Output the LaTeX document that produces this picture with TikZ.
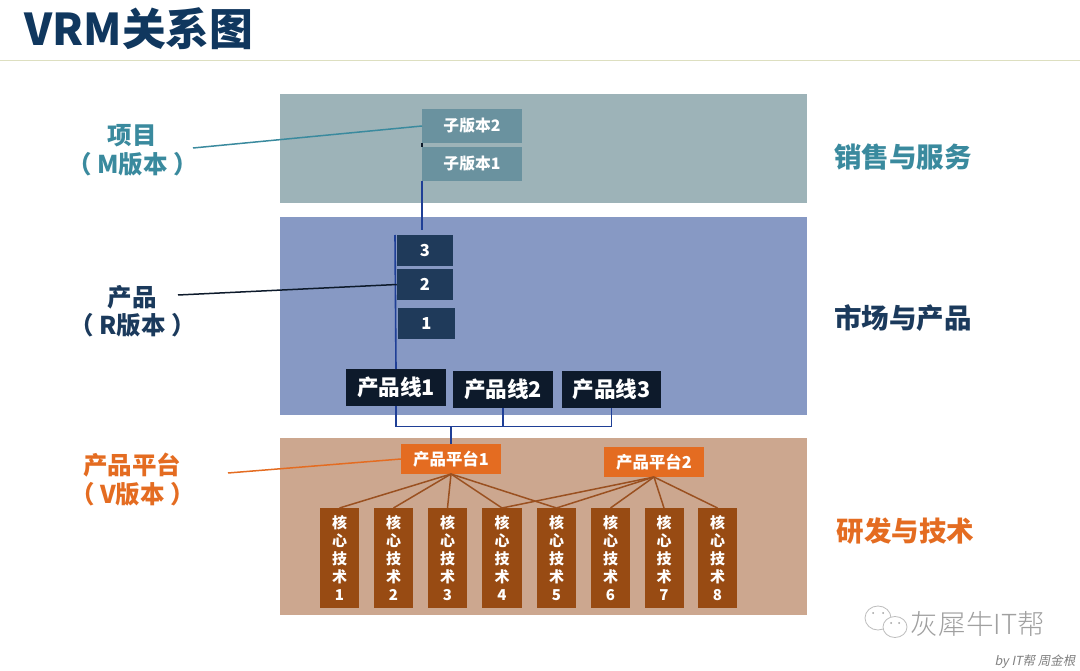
\documentclass[tikz,border=0pt]{standalone}
\usepackage{fontspec}
\setmainfont{Noto Sans CJK SC}
\newfontfamily\slantfont[FakeSlant=0.2]{Noto Sans CJK SC}
\newfontfamily\lightfont{Noto Sans CJK SC Light}
\usetikzlibrary{positioning}
\definecolor{bandA}{HTML}{9DB3B8}
\definecolor{bandB}{HTML}{8799C4}
\definecolor{bandC}{HTML}{CCA78F}
\definecolor{subC}{HTML}{6A929F}
\definecolor{relC}{HTML}{1F3A5A}
\definecolor{plC}{HTML}{0D1A2B}
\definecolor{pfC}{HTML}{E46C21}
\definecolor{coreC}{HTML}{984B13}
\definecolor{tealT}{HTML}{3A8A9E}
\definecolor{navyT}{HTML}{1B3A5C}
\definecolor{titleC}{HTML}{10375E}
\definecolor{ruleC}{HTML}{DDDFC0}
\definecolor{wireC}{HTML}{1F3F96}
\definecolor{treeC}{HTML}{9A5020}
\definecolor{markC}{HTML}{A0A0A0}
\tikzset{
  x=1pt,y=-1pt,
  box/.style={inner sep=0pt,outer sep=0pt,align=center,text=white,font=\bfseries},
  band/.style={box,minimum width=527pt},
  subbox/.style={box,fill=subC,minimum width=100pt,minimum height=34pt,font=\bfseries\fontsize{15.8}{17}\selectfont},
  relbox/.style={box,fill=relC,minimum width=56.5pt,minimum height=31pt,font=\bfseries\fontsize{16.5}{17}\selectfont},
  plbox/.style={box,fill=plC,minimum width=100pt,minimum height=37pt,font=\bfseries\fontsize{21.6}{23}\selectfont},
  pfbox/.style={box,fill=pfC,minimum width=100pt,minimum height=30pt,font=\bfseries\fontsize{16.4}{18}\selectfont},
  corebox/.style={box,fill=coreC,minimum width=39pt,minimum height=100pt,font=\bfseries\fontsize{15}{17.9}\selectfont},
  sidelabel/.style={inner sep=0pt,font=\bfseries\fontsize{24.5}{26}\selectfont},
  arealabel/.style={inner sep=0pt,font=\bfseries\fontsize{27.5}{29}\selectfont},
  wire/.style={draw=wireC,line width=1.6pt},
  tree/.style={draw=treeC,line width=1.5pt},
  callout/.style={line width=1.5pt},
  bubble/.style={draw=markC!70,fill=white,line width=0.8pt}
}
\begin{document}
\begin{tikzpicture}
\useasboundingbox (0,0) rectangle (1080,671);
\fill[white] (0,0) rectangle (1080,671);
% title
\node[inner sep=0pt,text=titleC,font=\bfseries\fontsize{43.8}{46}\selectfont] (title) at (139,29) {VRM关系图};
\coordinate (ruleL) at (0,60.5);
\coordinate (ruleR) at (1080,60.5);
\draw[ruleC,line width=1pt] (ruleL) -- (ruleR);
% bands
\node[band,fill=bandA,minimum height=109pt] (bandTop) at (543.5,148.5) {};
\node[band,fill=bandB,minimum height=198pt] (bandMid) at (543.5,316) {};
\node[band,fill=bandC,minimum height=177pt] (bandLow) at (543.5,526.5) {};
% boxes
\node[subbox] (s2) at (472,126) {子版本2};
\node[subbox] (s1) at (472,164) {子版本1};
\node[relbox] (r3) at (425,250.5) {3};
\node[relbox] (r2) at (425,284.5) {2};
\node[relbox] (r1) at (426.5,323.5) {1};
\node[plbox] (pl1) at (396,387.5) {产品线1};
\node[plbox] (pl2) at (503,389.5) {产品线2};
\node[plbox,minimum width=99pt] (pl3) at (611.5,389.5) {产品线3};
\node[pfbox] (pf1) at (451,459) {产品平台1};
\node[pfbox] (pf2) at (654,462) {产品平台2};
\node[corebox] (c1) at (339.5,558) {核\\心\\技\\术\\1};
\node[corebox] (c2) at (393.5,558) {核\\心\\技\\术\\2};
\node[corebox] (c3) at (447.5,558) {核\\心\\技\\术\\3};
\node[corebox,minimum width=40pt] (c4) at (502,558) {核\\心\\技\\术\\4};
\node[corebox] (c5) at (556.5,558) {核\\心\\技\\术\\5};
\node[corebox] (c6) at (610.5,558) {核\\心\\技\\术\\6};
\node[corebox] (c7) at (664,558) {核\\心\\技\\术\\7};
\node[corebox] (c8) at (717.5,558) {核\\心\\技\\术\\8};
% wires
\coordinate (r3top) at (422,230);
\coordinate (sideTop) at (395,235);
\draw[wire] (s1.south west) -- (r3top);
\draw[wire,draw=plC] (s2.south west) -- (s1.north west);
\draw[wire] (sideTop) -- (pl1.north);
\draw[wire] (pl1.south) -- ++(0,20.5) -| (pl3.south);
\draw[wire] (pl2.south) -- ++(0,18.5);
\coordinate (trunkTop) at (451,426);
\draw[wire] (pf1.north) -- (trunkTop);
% tree
\foreach \c in {c1,c2,c3,c4,c5} \draw[tree] (pf1.south) -- (\c.north);
\foreach \c in {c4,c5,c6,c7,c8} \draw[tree] (pf2.south) -- (\c.north);
% left labels
\node[sidelabel,text=tealT] (lm1) at (132,135.5) {项目};
\node[sidelabel,text=tealT] (lm2) at (132.5,164) {（ M版本 ）};
\node[sidelabel,text=navyT] (lr1) at (132,297) {产品};
\node[sidelabel,text=navyT] (lr2) at (132.5,325.5) {（ R版本 ）};
\node[sidelabel,text=pfC] (lv1) at (132,465.5) {产品平台};
\node[sidelabel,text=pfC] (lv2) at (132.5,494.5) {（ V版本 ）};
\coordinate (cm) at (193,148);
\coordinate (cr) at (178,295);
\coordinate (cv) at (228,473);
\draw[callout,tealT] (cm) -- (s2.west);
\draw[callout,plC] (cr) -- (r2.west);
\draw[callout,pfC] (cv) -- (pf1.west);
% right labels
\node[arealabel,text=tealT] (a1) at (903,157) {销售与服务};
\node[arealabel,text=navyT] (a2) at (903,318) {市场与产品};
\node[arealabel,text=pfC] (a3) at (905.5,531) {研发与技术};
% watermark
\draw[bubble] (878,618) ellipse (13 and 12);
\fill[markC] (873,613) circle (1) (883,613) circle (1);
\draw[bubble] (895,627) ellipse (12 and 10.5);
\fill[markC] (891,623) circle (1) (899,623) circle (1);
\node[inner sep=0pt,text=markC,font=\lightfont\fontsize{27.6}{29}\selectfont] (wm) at (978,624) {灰犀牛IT帮};
\node[inner sep=0pt,text=markC!80!black,font=\slantfont\fontsize{12.5}{14}\selectfont] (by) at (1035,662) {by IT帮 周金根};
\end{tikzpicture}
\end{document}
